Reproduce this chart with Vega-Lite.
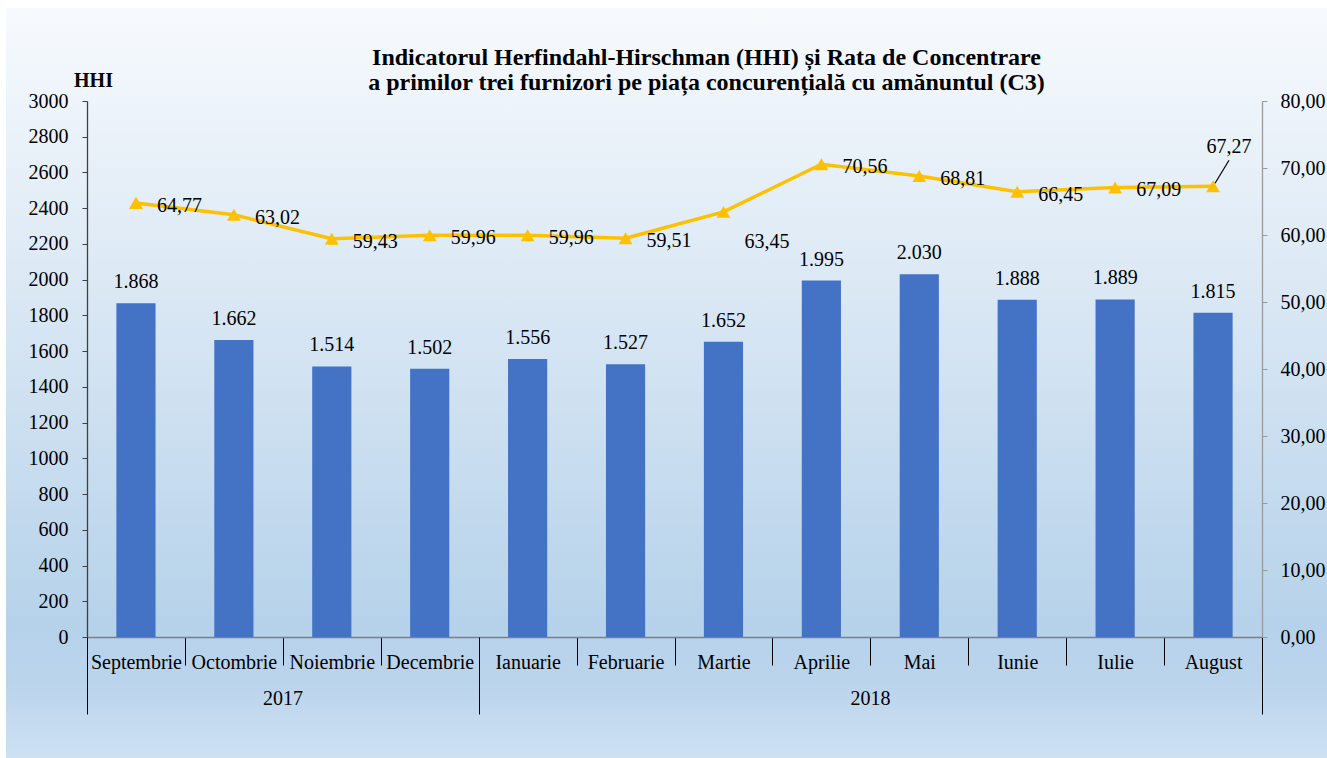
{
  "$schema": "https://vega.github.io/schema/vega-lite/v6.json",
  "width": 1321,
  "height": 750,
  "autosize": {"type": "none"},
  "padding": {"left": 6, "top": 8, "right": 0, "bottom": 0},
  "background": "white",
  "view": {
    "stroke": null,
    "fill": {
      "gradient": "linear", "x1": 0, "y1": 0, "x2": 0, "y2": 1,
      "stops": [
        {"offset": 0, "color": "#f7fafd"},
        {"offset": 0.4, "color": "#d9e7f4"},
        {"offset": 0.82, "color": "#b6d2ea"},
        {"offset": 0.9, "color": "#bad4ec"},
        {"offset": 1, "color": "#cee1f3"}
      ]
    }
  },
  "title": {
    "text": ["Indicatorul Herfindahl-Hirschman (HHI) și Rata de Concentrare", "a primilor trei furnizori pe piața concurențială cu amănuntul (C3)"],
    "anchor": "middle",
    "frame": "group",
    "dx": 40,
    "offset": -106,
    "baseline": "alphabetic",
    "font": "Liberation Serif",
    "fontSize": 24,
    "fontWeight": "bold",
    "lineHeight": 25,
    "color": "black"
  },
  "config": {
    "locale": {"number": {"decimal": ",", "thousands": ".", "grouping": [3], "currency": ["", ""]}},
    "font": "Liberation Serif",
    "axis": {"grid": false, "labelFont": "Liberation Serif", "labelFontSize": 20, "labelColor": "black", "titleFont": "Liberation Serif"},
    "text": {"font": "Liberation Serif", "fontSize": 20, "color": "black"}
  },
  "data": {
    "values": [
      {"month": "Septembrie", "year": "2017", "HHI": 1868, "C3": 64.77},
      {"month": "Octombrie", "year": "2017", "HHI": 1662, "C3": 63.02},
      {"month": "Noiembrie", "year": "2017", "HHI": 1514, "C3": 59.43},
      {"month": "Decembrie", "year": "2017", "HHI": 1502, "C3": 59.96},
      {"month": "Ianuarie", "year": "2018", "HHI": 1556, "C3": 59.96},
      {"month": "Februarie", "year": "2018", "HHI": 1527, "C3": 59.51},
      {"month": "Martie", "year": "2018", "HHI": 1652, "C3": 63.45},
      {"month": "Aprilie", "year": "2018", "HHI": 1995, "C3": 70.56},
      {"month": "Mai", "year": "2018", "HHI": 2030, "C3": 68.81},
      {"month": "Iunie", "year": "2018", "HHI": 1888, "C3": 66.45},
      {"month": "Iulie", "year": "2018", "HHI": 1889, "C3": 67.09},
      {"month": "August", "year": "2018", "HHI": 1815, "C3": 67.27}
    ]
  },
  "resolve": {
    "scale": {"x": "independent", "y": "independent"},
    "axis": {"x": "independent", "y": "independent"}
  },
  "layer": [
    {
      "encoding": {
        "x": {
          "field": "month", "type": "nominal", "sort": null,
          "scale": {"type": "band", "range": [81, 1256], "paddingInner": 0, "paddingOuter": 0},
          "axis": {
            "title": null, "orient": "bottom", "offset": -121,
            "tickBand": "extent", "tickSize": 28, "tickColor": "black", "tickWidth": 1,
            "domainColor": "#7f7f7f", "domainWidth": 1.5,
            "labelAngle": 0, "labelBaseline": "middle", "labelPadding": -3,
            "labelOverlap": false, "labelBound": false, "labelFlush": false
          }
        },
        "y": {
          "field": "HHI", "type": "quantitative",
          "scale": {"domain": [0, 3000], "range": [629, 93], "nice": false},
          "axis": {
            "orient": "left", "offset": -81,
            "values": [0, 200, 400, 600, 800, 1000, 1200, 1400, 1600, 1800, 2000, 2200, 2400, 2600, 2800, 3000],
            "format": "d", "tickSize": 5, "tickColor": "#404040", "domainColor": "#404040", "domainWidth": 1.3,
            "labelPadding": 14, "labelOverlap": false,
            "title": "HHI", "titleAngle": 0, "titleAlign": "center", "titleBaseline": "alphabetic",
            "titleX": 6, "titleY": 78, "titleFontSize": 20, "titleFontWeight": "bold", "titleColor": "black"
          }
        }
      },
      "layer": [
        {"mark": {"type": "bar", "width": {"band": 0.4}, "color": "#4472C4"}},
        {
          "mark": {"type": "text", "baseline": "middle", "dy": -21},
          "encoding": {"text": {"field": "HHI", "type": "quantitative", "format": ",d"}}
        }
      ]
    },
    {
      "encoding": {
        "x": {
          "field": "month", "type": "nominal", "sort": null,
          "scale": {"type": "band", "range": [81, 1256], "paddingInner": 0, "paddingOuter": 0},
          "axis": {
            "title": null, "orient": "bottom", "offset": -121,
            "values": ["Decembrie", "August"],
            "tickOffset": 49, "tickSize": 77, "tickColor": "black", "tickWidth": 1,
            "domain": false, "labels": false
          }
        },
        "y": {
          "field": "C3", "type": "quantitative",
          "scale": {"domain": [0, 80], "range": [629, 93], "nice": false},
          "axis": {
            "orient": "right", "offset": -65, "title": null,
            "values": [0, 10, 20, 30, 40, 50, 60, 70, 80],
            "format": ".2f", "tickSize": 5, "tickColor": "#9a9a9a", "domainColor": "#9a9a9a", "domainWidth": 1.3,
            "labelPadding": 13, "labelOverlap": false
          }
        }
      },
      "layer": [
        {"mark": {"type": "line", "color": "#FFC000", "strokeWidth": 3.5}},
        {"mark": {"type": "point", "shape": "triangle-up", "filled": true, "opacity": 1, "size": 190, "color": "#FFC000"}},
        {
          "transform": [{"filter": "datum.month != 'Martie' && datum.month != 'August'"}],
          "mark": {"type": "text", "align": "left", "baseline": "middle", "dx": 21, "dy": 3},
          "encoding": {"text": {"field": "C3", "type": "quantitative", "format": ".2f"}}
        },
        {
          "transform": [{"filter": "datum.month == 'Martie'"}],
          "mark": {"type": "text", "align": "left", "baseline": "middle", "dx": 21, "dy": 30},
          "encoding": {"text": {"field": "C3", "type": "quantitative", "format": ".2f"}}
        }
      ]
    },
    {
      "transform": [{"filter": "datum.month == 'August'"}],
      "encoding": {
        "x": {
          "field": "month", "type": "nominal", "sort": null,
          "scale": {"type": "band", "domain": ["Septembrie", "Octombrie", "Noiembrie", "Decembrie", "Ianuarie", "Februarie", "Martie", "Aprilie", "Mai", "Iunie", "Iulie", "August"], "range": [81, 1256], "paddingInner": 0, "paddingOuter": 0},
          "axis": {
            "title": null, "orient": "bottom", "offset": -121,
            "values": ["Octombrie", "Aprilie"],
            "labelExpr": "datum.value == 'Octombrie' ? '2017' : '2018'",
            "labelAngle": 0, "labelAlign": "center",
            "labelOffset": 49, "ticks": false, "tickSize": 0, "domain": false,
            "labelBaseline": "middle", "labelPadding": 61,
            "labelOverlap": false, "labelBound": false, "labelFlush": false
          }
        },
        "y": {
          "field": "C3", "type": "quantitative",
          "scale": {"domain": [0, 80], "range": [629, 93], "nice": false},
          "axis": null
        }
      },
      "layer": [
        {
          "mark": {"type": "rule", "color": "black", "strokeWidth": 1.2, "xOffset": 2, "yOffset": -3, "x2Offset": 16, "y2Offset": -26},
          "encoding": {
            "x2": {"field": "month"},
            "y2": {"field": "C3"}
          }
        },
        {
          "mark": {"type": "text", "align": "center", "baseline": "middle", "dx": 16, "dy": -39},
          "encoding": {"text": {"field": "C3", "type": "quantitative", "format": ".2f"}}
        }
      ]
    },
    {
      "transform": [{"filter": "datum.month == 'Septembrie'"}],
      "encoding": {
        "x": {
          "field": "month", "type": "nominal", "sort": null,
          "scale": {"type": "band", "domain": ["Septembrie", "Octombrie", "Noiembrie", "Decembrie", "Ianuarie", "Februarie", "Martie", "Aprilie", "Mai", "Iunie", "Iulie", "August"], "range": [81, 1256], "paddingInner": 0, "paddingOuter": 0},
          "axis": {
            "title": null, "orient": "bottom", "offset": -121,
            "values": ["Septembrie"],
            "tickOffset": -49, "tickSize": 77, "tickColor": "black", "tickWidth": 1,
            "domain": false, "labels": false
          }
        },
        "y": {
          "field": "C3", "type": "quantitative",
          "scale": {"domain": [0, 80], "range": [629, 93], "nice": false},
          "axis": null
        }
      },
      "layer": [
        {"mark": {"type": "point", "shape": "triangle-up", "filled": true, "opacity": 1, "size": 190, "color": "#FFC000"}}
      ]
    }
  ]
}
